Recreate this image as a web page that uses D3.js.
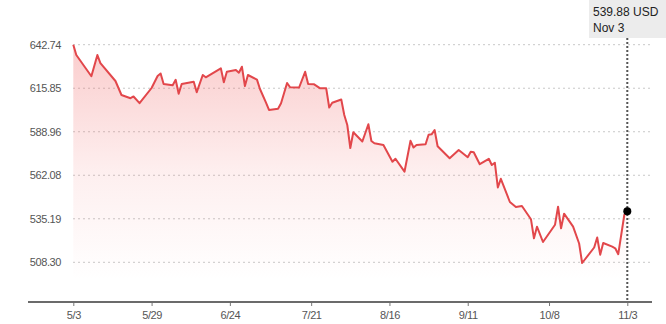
<!DOCTYPE html>
<html>
<head>
<meta charset="utf-8">
<script src="https://cdn.jsdelivr.net/npm/d3@7"></script>
<style>
  body { margin: 0; background: #fff; }
  svg { display: block; font-family: "Liberation Sans", Arial, sans-serif; }
</style>
</head>
<body>
<div id="chart"></div>
<script>
// price points (daily series, vertices only)
const dates = [
  "2023-05-03","2023-05-04","2023-05-09","2023-05-11","2023-05-12","2023-05-17","2023-05-19","2023-05-22",
  "2023-05-23","2023-05-25","2023-05-29","2023-05-31","2023-06-01","2023-06-02","2023-06-05","2023-06-06",
  "2023-06-07","2023-06-08","2023-06-12","2023-06-13","2023-06-15","2023-06-16","2023-06-21","2023-06-22",
  "2023-06-23","2023-06-26","2023-06-27","2023-06-28","2023-06-29","2023-06-30","2023-07-03","2023-07-04",
  "2023-07-06","2023-07-07","2023-07-10","2023-07-11","2023-07-13","2023-07-14","2023-07-17","2023-07-19",
  "2023-07-20","2023-07-22","2023-07-24","2023-07-26","2023-07-27","2023-07-28","2023-07-31","2023-08-01",
  "2023-08-02","2023-08-03","2023-08-04","2023-08-07","2023-08-09","2023-08-10","2023-08-11","2023-08-14",
  "2023-08-17","2023-08-18","2023-08-21","2023-08-23","2023-08-24","2023-08-25","2023-08-28","2023-08-29",
  "2023-08-30","2023-08-31","2023-09-01","2023-09-05","2023-09-08","2023-09-11","2023-09-12","2023-09-13",
  "2023-09-15","2023-09-18","2023-09-19","2023-09-20","2023-09-21","2023-09-22","2023-09-25","2023-09-27",
  "2023-09-29","2023-10-02","2023-10-03","2023-10-04","2023-10-06","2023-10-10","2023-10-11","2023-10-12",
  "2023-10-13","2023-10-16","2023-10-18","2023-10-19","2023-10-23","2023-10-24","2023-10-25","2023-10-26",
  "2023-10-29","2023-10-30","2023-10-31","2023-11-02","2023-11-03"
];
const prices = [
  642.74,636.38,623.22,636.38,631.31,620.31,611.66,609.69,
  610.74,606.60,615.99,623.40,624.95,618.46,617.72,621.05,
  612.47,618.46,619.88,613.39,624.02,622.60,628.16,619.57,
  626.06,627.11,625.44,629.15,617.22,624.02,621.18,615.37,
  606.91,602.40,603.20,606.54,619.08,616.42,616.30,626.00,
  618.46,618.27,615.80,615.80,603.94,606.85,608.88,599.31,
  593.13,578.92,588.68,582.94,593.62,583.24,581.82,580.77,
  570.46,572.31,564.28,583.37,579.23,580.77,581.21,587.14,
  587.38,590.04,579.97,572.56,577.68,573.24,576.63,576.26,
  568.91,572.25,568.42,569.84,554.52,559.89,545.56,542.47,
  543.09,534.93,523.13,530.30,520.84,531.53,542.65,529.31,
  538.33,530.30,519.92,507.87,517.45,523.63,513.00,520.23,
  517.94,516.95,513.31,537.53,539.88
];
const yTicks = [642.74, 615.85, 588.96, 562.08, 535.19, 508.30];
const xTickDates = ["2023-05-03","2023-05-29","2023-06-24","2023-07-21","2023-08-16","2023-09-11","2023-10-08","2023-11-03"];
const xTickLabels = ["5/3","5/29","6/24","7/21","8/16","9/11","10/8","11/3"];
const currency = "USD";

const width = 666, height = 324;
const parse = d3.timeParse("%Y-%m-%d");
const data = dates.map((d, i) => ({date: parse(d), value: prices[i]}));

const x = d3.scaleTime()
  .domain([parse(dates[0]), parse(dates[dates.length - 1])])
  .range([73.3, 627.3]);
const y = d3.scaleLinear()
  .domain([508.30, 642.74])
  .range([262.3, 44.7]);
const baseY = 302;

const svg = d3.select("#chart").append("svg")
  .attr("width", width)
  .attr("height", height);

const defs = svg.append("defs");
const grad = defs.append("linearGradient")
  .attr("id", "fade")
  .attr("gradientUnits", "userSpaceOnUse")
  .attr("x1", 0).attr("x2", 0)
  .attr("y1", 44).attr("y2", 280);
grad.append("stop").attr("offset", "0%").attr("stop-color", "#f06060").attr("stop-opacity", 0.32);
grad.append("stop").attr("offset", "55%").attr("stop-color", "#f06060").attr("stop-opacity", 0.1);
grad.append("stop").attr("offset", "100%").attr("stop-color", "#f06060").attr("stop-opacity", 0);

// gridlines
svg.append("g")
  .selectAll("line")
  .data(yTicks)
  .join("line")
    .attr("x1", 73).attr("x2", 652)
    .attr("y1", d => y(d)).attr("y2", d => y(d))
    .attr("stroke", "#c8c8c8")
    .attr("stroke-width", 1)
    .attr("stroke-dasharray", "2,3");

// y labels
svg.append("g")
  .selectAll("text")
  .data(yTicks)
  .join("text")
    .attr("x", 61)
    .attr("y", d => y(d))
    .attr("dy", "0.35em")
    .attr("text-anchor", "end")
    .attr("fill", "#555")
    .style("font-size", "11px")
    .style("letter-spacing", "-0.4px")
    .text(d => d.toFixed(2));

// area + line
const area = d3.area()
  .x(d => x(d.date))
  .y0(baseY)
  .y1(d => y(d.value));
svg.append("path")
  .datum(data)
  .attr("fill", "url(#fade)")
  .attr("d", area);

const line = d3.line()
  .x(d => x(d.date))
  .y(d => y(d.value));
svg.append("path")
  .datum(data)
  .attr("fill", "none")
  .attr("stroke", "#e2474b")
  .attr("stroke-width", 2)
  .attr("stroke-linejoin", "round")
  .attr("d", line);

// x axis
const xAxis = d3.axisBottom(x)
  .tickValues(xTickDates.map(parse))
  .tickFormat((d, i) => xTickLabels[i])
  .tickSize(4)
  .tickPadding(5);
const gx = svg.append("g")
  .attr("transform", `translate(0,${baseY})`)
  .call(xAxis);
gx.select(".domain").remove();
gx.append("line")
  .attr("x1", 28).attr("x2", 652)
  .attr("stroke", "#6b6b6b")
  .attr("stroke-width", 2);
gx.selectAll(".tick line").attr("stroke", "#777");
gx.selectAll(".tick text")
  .attr("fill", "#555")
  .style("font-size", "11px")
  .style("letter-spacing", "-0.4px")
  .style("font-family", "'Liberation Sans', Arial, sans-serif");

// hover marker on last point
const last = data[data.length - 1];
svg.append("line")
  .attr("x1", x(last.date)).attr("x2", x(last.date))
  .attr("y1", 38).attr("y2", baseY)
  .attr("stroke", "#555")
  .attr("stroke-width", 2)
  .attr("stroke-dasharray", "2,2");
svg.append("circle")
  .attr("cx", x(last.date))
  .attr("cy", y(last.value))
  .attr("r", 4)
  .attr("fill", "#000");

const tip = svg.append("g");
tip.append("rect")
  .attr("x", 589).attr("y", 0)
  .attr("width", 80).attr("height", 38)
  .attr("fill", "#ececec");
tip.append("text")
  .attr("x", 593).attr("y", 16)
  .attr("fill", "#222")
  .style("font-size", "12px")
  .text(last.value.toFixed(2) + " " + currency);
tip.append("text")
  .attr("x", 593).attr("y", 32)
  .attr("fill", "#222")
  .style("font-size", "12px")
  .text(d3.timeFormat("%b %-d")(last.date));
</script>
</body>
</html>
